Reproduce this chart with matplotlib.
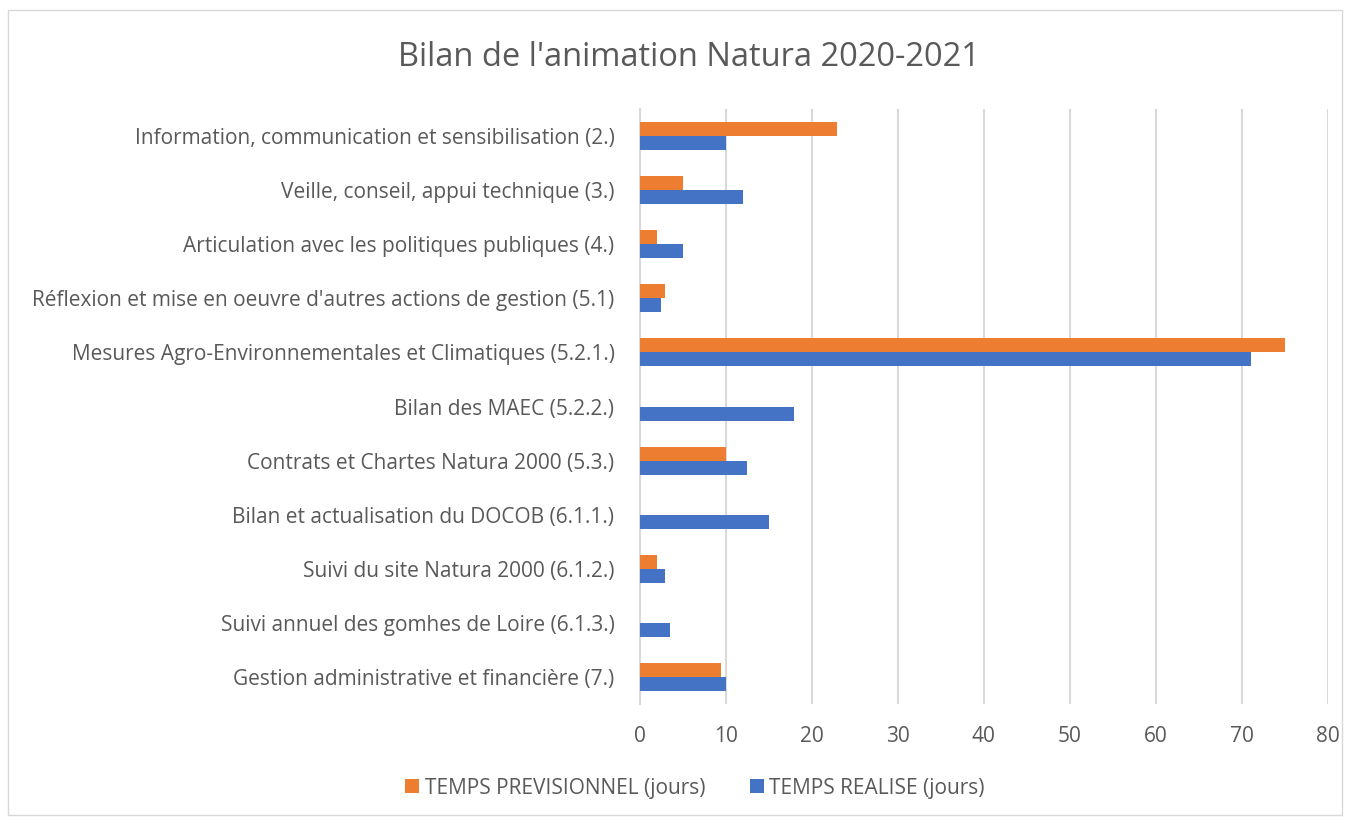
import matplotlib
matplotlib.use("Agg")
import matplotlib.pyplot as plt
import numpy as np
from matplotlib.patches import Rectangle

plt.rcParams['font.family'] = ['Open Sans', 'DejaVu Sans']

categories = [
    "Information, communication et sensibilisation (2.)",
    "Veille, conseil, appui technique (3.)",
    "Articulation avec les politiques publiques (4.)",
    "Réflexion et mise en oeuvre d'autres actions de gestion (5.1)",
    "Mesures Agro-Environnementales et Climatiques (5.2.1.)",
    "Bilan des MAEC (5.2.2.)",
    "Contrats et Chartes Natura 2000 (5.3.)",
    "Bilan et actualisation du DOCOB (6.1.1.)",
    "Suivi du site Natura 2000 (6.1.2.)",
    "Suivi annuel des gomhes de Loire (6.1.3.)",
    "Gestion administrative et financière (7.)",
]
temps_previsionnel = [23, 5, 2, 3, 75, 0, 10, 0, 2, 0, 9.5]
temps_realise = [10, 12, 5, 2.5, 71, 18, 12.5, 15, 3, 3.5, 10]
series_names = ["TEMPS PREVISIONNEL (jours)", "TEMPS REALISE (jours)"]
xticks = [0, 10, 20, 30, 40, 50, 60, 70, 80]

W, H = 1350, 822
fig = plt.figure(figsize=(W / 100, H / 100), dpi=100)
ax = fig.add_axes([639.5 / W, 1 - 704 / H, (1328 - 639.5) / W, (704 - 109) / H])

y = np.arange(len(categories))
h = 0.26
orange = "#ED7D31"
blue = "#4472C4"
ax.barh(y - h / 2, temps_previsionnel, height=h, color=orange, label=series_names[0], zorder=3)
ax.barh(y + h / 2, temps_realise, height=h, color=blue, label=series_names[1], zorder=3)

ax.set_ylim(len(categories) - 0.5, -0.5)
ax.set_xlim(0, 80)
ax.set_xticks(xticks)
ax.set_yticks(y)
ax.set_yticklabels(categories, fontsize=15, color="#595959")
ax.tick_params(axis='x', labelsize=15, labelcolor="#595959", length=0, pad=16)
ax.tick_params(axis='y', length=0, pad=18)
ax.grid(axis='x', color="#d9d9d9", linewidth=1.5, zorder=0)
for s in ['top', 'right', 'bottom']:
    ax.spines[s].set_visible(False)
ax.spines['left'].set_color("#d9d9d9")
ax.spines['left'].set_linewidth(1.5)

fig.text(689 / W, 1 - 57 / H, "Bilan de l'animation Natura 2020-2021", ha='center', va='center',
         fontsize=23.5, color="#595959")

leg = fig.legend(loc='center', bbox_to_anchor=(695 / W, 1 - 788 / H), ncol=2, frameon=False,
                 fontsize=15, handlelength=0.67, handleheight=0.67, handletextpad=0.25,
                 columnspacing=2.15)
for t in leg.get_texts():
    t.set_color("#595959")

fig.patches.append(Rectangle((8 / W, 1 - 815 / H), (1342 - 8) / W, (815 - 10) / H,
                             transform=fig.transFigure, fill=False, edgecolor="#d9d9d9", linewidth=1))

fig.savefig("out.png", dpi=100)
